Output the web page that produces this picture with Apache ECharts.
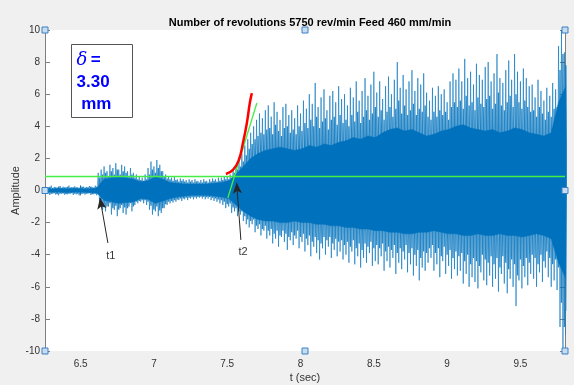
<!DOCTYPE html>
<html>
<head>
<meta charset="utf-8">
<script src="https://cdn.jsdelivr.net/npm/echarts@6/dist/echarts.min.js"></script>
<style>
html,body{margin:0;padding:0;background:#f0f0f0;}
#chart{width:574px;height:385px;}
</style>
</head>
<body>
<div id="chart"></div>
<script>
// ---- data ----
const titleText = 'Number of revolutions 5750 rev/min Feed 460 mm/min';
const xMin = 6.257, xMax = 9.804;
const yMin = -10, yMax = 10, yStep = 2;

// tall spikes (individual peaks / troughs), start 6.26 s, every 0.02 s
const spikeStart = 6.26, spikeStep = 0.02;
const spikeHi = [
  0.25,0.2,0.3,0.22,0.18,0.28,0.24,0.2,0.3,0.22,
  0.26,0.2,0.3,0.24,0.22,0.28,0.2,0.3,
  1.1,1.3,
  1.5,1.2,1.6,1.4,1.7,1.3,1.6,1.5,1.2,1.4,
  1.1,1.0,0.9,0.8,1.0,
  1.4,1.8,1.5,1.9,1.6,1.2,
  1.0,0.9,0.8,0.85,0.7,0.75,0.7,0.65,0.7,
  0.65,0.7,0.6,0.65,0.7,0.6,0.7,0.75,0.7,0.8,
  0.8,0.9,0.85,1.0,
  1.3,1.6,1.9,2.3,2.8,
  3.2,3.6,4.0,4.4,4.8,4.5,5.0,
  5.3,4.6,5.5,4.9,4.4,5.2,5.4,4.7,5.0,4.5,5.3,
  4.8,5.6,5.1,6.0,5.4,6.7,5.2,5.8,6.3,5.0,5.9,6.2,5.5,6.5,5.7,
  6.0,5.3,6.4,5.8,6.8,5.6,6.2,7.0,5.9,6.6,7.4,
  6.1,6.8,5.7,6.5,7.1,6.0,6.9,8.0,6.4,7.2,6.3,6.8,7.5,6.2,7.0,6.6,7.3,6.1,
  5.6,6.4,5.9,6.5,6.0,6.3,5.5,6.8,7.3,6.9,
  7.6,6.8,8.2,7.0,7.4,6.6,7.9,7.2,6.9,7.7,8.0,6.8,7.3,8.5,7.0,6.7,7.5,8.1,6.9,8.5,7.4,6.8,7.6,7.0,6.5,
  6.6,5.8,6.9,6.2,5.6,6.4,5.9,6.7,6.3,
  9.0,10,8.6
];
const spikeLo = [
  -0.22,-0.28,-0.2,-0.25,-0.3,-0.2,-0.26,-0.24,-0.2,-0.28,
  -0.24,-0.3,-0.22,-0.26,-0.2,-0.28,-0.24,-0.3,
  -0.9,-1.2,
  -1.3,-1.0,-1.5,-1.2,-1.6,-1.1,-1.4,-1.5,-1.0,-1.3,
  -0.9,-0.8,-0.7,-0.8,-0.9,
  -1.2,-1.5,-1.3,-1.6,-1.4,-1.1,
  -0.9,-0.8,-0.75,-0.7,-0.6,-0.65,-0.55,-0.6,-0.5,
  -0.55,-0.5,-0.45,-0.5,-0.55,-0.5,-0.6,-0.65,-0.7,-0.8,
  -0.9,-1.1,-1.0,-1.4,
  -1.3,-1.6,-1.5,-1.9,-2.1,
  -2.3,-2.1,-2.6,-2.4,-2.8,-2.5,-3.0,
  -2.8,-3.3,-3.0,-3.5,-2.9,-3.2,-3.7,-3.1,-3.4,-3.0,-3.6,
  -3.2,-3.8,-3.4,-4.1,-3.5,-3.9,-4.3,-3.6,-4.0,-3.5,-4.2,-3.7,-4.1,-3.8,-4.3,
  -4.0,-4.5,-3.8,-4.6,-4.1,-4.8,-4.2,-4.5,-3.9,-4.7,-4.4,
  -4.6,-4.1,-5.0,-4.4,-4.8,-4.2,-5.2,-4.5,-4.9,-4.3,-5.1,-4.6,-5.3,-4.7,-5.6,-4.8,-5.0,-4.5,
  -4.2,-5.0,-4.6,-5.4,-4.4,-5.2,-4.7,-5.5,-4.9,-5.3,
  -5.0,-5.8,-5.2,-6.0,-5.4,-5.7,-6.1,-5.1,-5.6,-5.9,-5.3,-6.0,-5.5,-6.3,-5.2,-5.8,-6.4,-5.5,-6.0,-7.2,-5.6,-6.1,-5.4,-5.9,-5.2,
  -5.5,-6.0,-5.1,-5.7,-4.8,-5.4,-6.0,-5.6,-6.2,
  -8.5,-10,-9.0
];

// medium spikes, start 6.27 s, every 0.02 s
const midStart = 6.27, midStep = 0.02;
const midHi = [
  0.18,0.22,0.15,0.2,0.24,0.16,0.2,0.22,0.18,0.2,
  0.2,0.16,0.22,0.18,0.2,0.24,0.18,0.22,
  0.8,1.0,
  1.1,0.9,1.2,1.0,1.3,1.0,1.2,1.1,0.9,1.0,
  0.8,0.7,0.65,0.6,0.7,
  1.0,1.3,1.1,1.4,1.2,0.9,
  0.75,0.7,0.6,0.65,0.55,0.6,0.55,0.5,0.55,
  0.5,0.55,0.5,0.5,0.55,0.5,0.55,0.6,0.55,0.6,
  0.65,0.7,0.7,0.8,
  1.1,1.3,1.5,1.8,2.2,
  2.6,2.9,3.2,3.4,3.6,3.5,3.8,
  3.9,3.5,4.1,3.7,3.4,3.9,4.0,3.6,3.8,3.5,4.0,
  3.7,4.2,3.9,4.4,4.0,4.6,3.9,4.3,4.5,3.8,4.4,4.6,4.1,4.7,4.2,
  4.4,4.0,4.7,4.3,4.9,4.2,4.6,5.0,4.4,4.8,5.2,
  4.6,5.0,4.4,4.9,5.2,4.6,5.1,5.6,4.8,5.3,4.7,5.0,5.4,4.7,5.1,4.9,5.3,4.6,
  4.4,4.9,4.6,5.0,4.7,4.9,4.4,5.2,5.5,5.2,
  5.6,5.1,5.9,5.3,5.5,5.0,5.8,5.4,5.2,5.7,5.9,5.1,5.4,6.1,5.3,5.0,5.5,5.9,5.2,6.0,5.5,5.1,5.6,5.2,4.9,
  5.0,4.6,5.2,4.8,4.4,4.9,4.6,5.1,5.2,
  7.5,8.5,7.8
];
const midLo = [
  -0.18,-0.2,-0.16,-0.22,-0.2,-0.18,-0.22,-0.2,-0.16,-0.2,
  -0.2,-0.22,-0.18,-0.2,-0.16,-0.22,-0.2,-0.22,
  -0.75,-0.95,
  -1.0,-0.8,-1.1,-0.95,-1.2,-0.9,-1.05,-1.1,-0.8,-1.0,
  -0.7,-0.65,-0.6,-0.6,-0.7,
  -0.95,-1.2,-1.0,-1.25,-1.1,-0.85,
  -0.7,-0.65,-0.6,-0.55,-0.5,-0.5,-0.45,-0.45,-0.42,
  -0.42,-0.4,-0.38,-0.4,-0.42,-0.4,-0.45,-0.5,-0.55,-0.6,
  -0.7,-0.85,-0.8,-1.05,
  -1.1,-1.3,-1.3,-1.6,-1.8,
  -1.9,-1.8,-2.2,-2.1,-2.4,-2.2,-2.5,
  -2.4,-2.7,-2.5,-2.8,-2.5,-2.7,-2.9,-2.6,-2.8,-2.5,-2.9,
  -2.7,-3.0,-2.8,-3.2,-2.9,-3.1,-3.3,-2.9,-3.1,-2.9,-3.3,-3.0,-3.2,-3.1,-3.4,
  -3.2,-3.5,-3.1,-3.6,-3.3,-3.7,-3.3,-3.5,-3.2,-3.6,-3.4,
  -3.6,-3.3,-3.8,-3.5,-3.7,-3.4,-3.9,-3.6,-3.8,-3.4,-3.9,-3.6,-4.0,-3.7,-4.2,-3.8,-3.9,-3.6,
  -3.4,-3.9,-3.6,-4.1,-3.5,-4.0,-3.7,-4.2,-3.8,-4.1,
  -3.9,-4.4,-4.0,-4.6,-4.2,-4.4,-4.7,-4.0,-4.3,-4.5,-4.1,-4.6,-4.2,-4.8,-4.1,-4.5,-4.9,-4.3,-4.6,-5.3,-4.3,-4.7,-4.2,-4.5,-4.0,
  -4.2,-4.6,-4.0,-4.4,-3.8,-4.2,-4.6,-4.3,-4.8,
  -7.0,-8.5,-7.5
];

// dense core of the signal, start 6.26 s, every 0.05 s
const coreStart = 6.26, coreStep = 0.05;
const coreHi = [
  0.1,0.1,0.12,0.1,0.12,0.1,0.1,0.15,0.7,0.8,
  0.85,0.8,0.7,0.55,0.6,0.85,0.7,0.5,0.45,0.4,
  0.4,0.4,0.4,0.45,0.5,0.6,1.0,1.5,2.0,2.3,
  2.5,2.6,2.7,2.6,2.5,2.6,2.8,2.7,2.9,2.8,
  3.0,3.1,3.3,3.2,3.4,3.3,3.6,3.8,3.9,3.7,
  3.8,3.6,3.4,3.5,3.7,3.8,4.0,4.1,3.9,3.8,
  3.7,3.8,3.6,3.7,3.9,3.8,3.6,3.5,3.4,3.6,
  5.5,6.5
];
const coreLo = [
  -0.1,-0.1,-0.1,-0.12,-0.1,-0.1,-0.12,-0.15,-0.6,-0.7,
  -0.8,-0.75,-0.7,-0.5,-0.55,-0.8,-0.65,-0.5,-0.4,-0.35,
  -0.3,-0.3,-0.3,-0.35,-0.4,-0.5,-0.9,-1.3,-1.6,-1.8,
  -1.9,-1.9,-2.0,-2.0,-1.9,-2.0,-2.0,-2.1,-2.1,-2.2,
  -2.2,-2.3,-2.3,-2.4,-2.4,-2.5,-2.5,-2.6,-2.6,-2.7,
  -2.7,-2.6,-2.6,-2.5,-2.6,-2.7,-2.7,-2.8,-2.8,-2.7,
  -2.8,-2.8,-2.7,-2.8,-2.8,-2.9,-2.8,-2.7,-2.8,-3.0,
  -4.5,-5.5
];

// fitted lines
const thresholdLevel = 0.86;
const greenFitT = [7.504, 7.702];
const greenFitY = [-0.47, 5.45];
const redFitT = [7.491, 7.539, 7.579, 7.607, 7.634, 7.654, 7.668];
const redFitY = [1.03, 1.28, 1.90, 2.96, 4.21, 5.45, 6.07];

// annotations: label, tail, tip, text position
const annotNames = ['t1', 't2'];
const annotTail = [[6.686, -3.27], [7.593, -3.08]];
const annotTip = [[6.632, -0.47], [7.564, 0.49]];
const annotText = [[6.706, -4.07], [7.608, -3.81]];

// ---- build ----
function zigzag(start, step, hi, lo) {
  const out = [];
  for (let i = 0; i < hi.length; i++) {
    const t = start + i * step;
    out.push([t, hi[i]]);
    out.push([t + step / 2, lo[i]]);
  }
  return out;
}
const spikeData = zigzag(spikeStart, spikeStep, spikeHi, spikeLo);
const midData = zigzag(midStart, midStep, midHi, midLo);
const coreHiData = coreHi.map((v, i) => [coreStart + i * coreStep, v]);
const coreLoData = coreLo.map((v, i) => [coreStart + i * coreStep, v]);
const greenFit = greenFitT.map((t, i) => [t, greenFitY[i]]);
const redFit = redFitT.map((t, i) => [t, redFitY[i]]);

const FONT = 'Liberation Sans, Arial, Helvetica, sans-serif';
const axisColor = '#808080';
const labelColor = '#333333';
const blue = '#0072BD';

const chart = echarts.init(document.getElementById('chart'), null, {renderer: 'canvas'});

const handlePts = [
  [xMin, yMax], [(xMin + xMax) / 2, yMax], [xMax, yMax],
  [xMin, 0], [xMax, 0],
  [xMin, yMin], [(xMin + xMax) / 2, yMin], [xMax, yMin]
];

const option = {
  animation: false,
  backgroundColor: '#f0f0f0',
  textStyle: {fontFamily: FONT},
  title: {
    text: titleText,
    left: 305, textAlign: 'center', top: 12,
    textStyle: {fontSize: 11, fontWeight: 'bold', color: '#000', fontFamily: FONT}
  },
  grid: {left: 45, right: 9, top: 30, bottom: 34, show: true, backgroundColor: '#ffffff', borderWidth: 0,
         containLabel: false, outerBoundsMode: 'none'},
  xAxis: [{
    type: 'value', min: xMin, max: xMax, splitNumber: 7, position: 'bottom',
    name: 't (sec)', nameLocation: 'middle', nameGap: 21, nameMoveOverlap: false,
    nameTextStyle: {fontSize: 11, color: labelColor, fontFamily: FONT},
    axisLine: {show: true, lineStyle: {color: axisColor, width: 1}},
    axisTick: {show: true, inside: true, length: 5, lineStyle: {color: axisColor}},
    axisLabel: {fontSize: 10, color: labelColor, margin: 8, showMinLabel: false, showMaxLabel: false, fontFamily: FONT},
    splitLine: {show: false}
  }, {
    type: 'value', min: xMin, max: xMax, splitNumber: 7, position: 'top',
    axisLine: {show: true, lineStyle: {color: axisColor, width: 1}},
    axisTick: {show: true, inside: true, length: 5, lineStyle: {color: axisColor}},
    axisLabel: {show: false},
    splitLine: {show: false}
  }],
  yAxis: [{
    type: 'value', min: yMin, max: yMax, interval: yStep, position: 'left',
    name: 'Amplitude', nameLocation: 'middle', nameGap: 24, nameRotate: 90, nameMoveOverlap: false,
    nameTextStyle: {fontSize: 11, color: labelColor, fontFamily: FONT},
    axisLine: {show: true, lineStyle: {color: axisColor, width: 1}},
    axisTick: {show: true, inside: true, length: 5, lineStyle: {color: axisColor}},
    axisLabel: {fontSize: 10, color: labelColor, margin: 5, fontFamily: FONT},
    splitLine: {show: false}
  }, {
    type: 'value', min: yMin, max: yMax, interval: yStep, position: 'right',
    axisLine: {show: true, lineStyle: {color: axisColor, width: 1}},
    axisTick: {show: true, inside: true, length: 5, lineStyle: {color: axisColor}},
    axisLabel: {show: false},
    splitLine: {show: false}
  }],
  series: [
    {
      type: 'line', name: 'spikes', data: spikeData, showSymbol: false, symbol: 'none',
      sampling: null, clip: true, z: 2,
      lineStyle: {color: blue, width: 1, opacity: 0.6}
    },
    {
      type: 'line', name: 'mid', data: midData, showSymbol: false, symbol: 'none',
      sampling: null, clip: true, z: 2,
      lineStyle: {color: blue, width: 1.3, opacity: 0.85}
    },
    {
      type: 'line', name: 'coreHi', data: coreHiData, showSymbol: false, symbol: 'none', clip: true, z: 3,
      lineStyle: {color: blue, width: 0.5},
      areaStyle: {color: blue, opacity: 1}
    },
    {
      type: 'line', name: 'coreLo', data: coreLoData, showSymbol: false, symbol: 'none', clip: true, z: 3,
      lineStyle: {color: blue, width: 0.5},
      areaStyle: {color: blue, opacity: 1}
    },
    {
      type: 'line', name: 'greenFit', data: greenFit, showSymbol: false, symbol: 'none', z: 5,
      lineStyle: {color: '#44ee44', width: 1.3},
      markLine: {
        silent: true, symbol: 'none', label: {show: false},
        lineStyle: {color: '#44ee44', width: 1.3, type: 'solid'},
        data: [{yAxis: thresholdLevel}]
      }
    },
    {
      type: 'line', name: 'redFit', data: redFit, showSymbol: false, symbol: 'none', smooth: true, z: 6,
      lineStyle: {color: '#ff0000', width: 2.5}
    },
    {
      type: 'scatter', name: 'annot', z: 8, symbolSize: 0,
      data: annotNames.map((n, i) => ({name: n, value: annotText[i]})),
      label: {show: true, formatter: '{b}', position: 'inside', fontSize: 11, color: '#000', fontFamily: FONT},
      markLine: {
        silent: true, animation: false,
        symbol: ['none', 'arrow'], symbolSize: [7, 11],
        label: {show: false},
        lineStyle: {color: '#262626', width: 1, type: 'solid'},
        data: annotNames.map((n, i) => [{coord: annotTail[i]}, {coord: annotTip[i]}])
      },
      markPoint: {
        silent: true, symbol: 'rect', symbolSize: 6, label: {show: false},
        itemStyle: {color: '#c6dcf0', borderColor: '#3d80c4', borderWidth: 1},
        data: handlePts.map(p => ({coord: p}))
      }
    }
  ],
  graphic: [{
    type: 'group', left: 71, top: 44, z: 100,
    children: [
      {type: 'rect', shape: {x: 0, y: 0, width: 61, height: 73},
       style: {fill: '#ffffff', stroke: '#555555', lineWidth: 1}},
      {type: 'text', x: 5, y: 5,
       style: {
         text: '{d|δ} {b|=}\n{b|3.30}\n{b| mm}',
         rich: {
           d: {fontSize: 18, fontStyle: 'italic', fontWeight: 'normal', fill: '#0000ff', fontFamily: 'DejaVu Serif, serif', lineHeight: 22},
           b: {fontSize: 17, fontWeight: 'bold', fill: '#0000ff', fontFamily: FONT, lineHeight: 22}
         }
       }}
    ]
  }]
};
chart.setOption(option);
</script>
</body>
</html>
